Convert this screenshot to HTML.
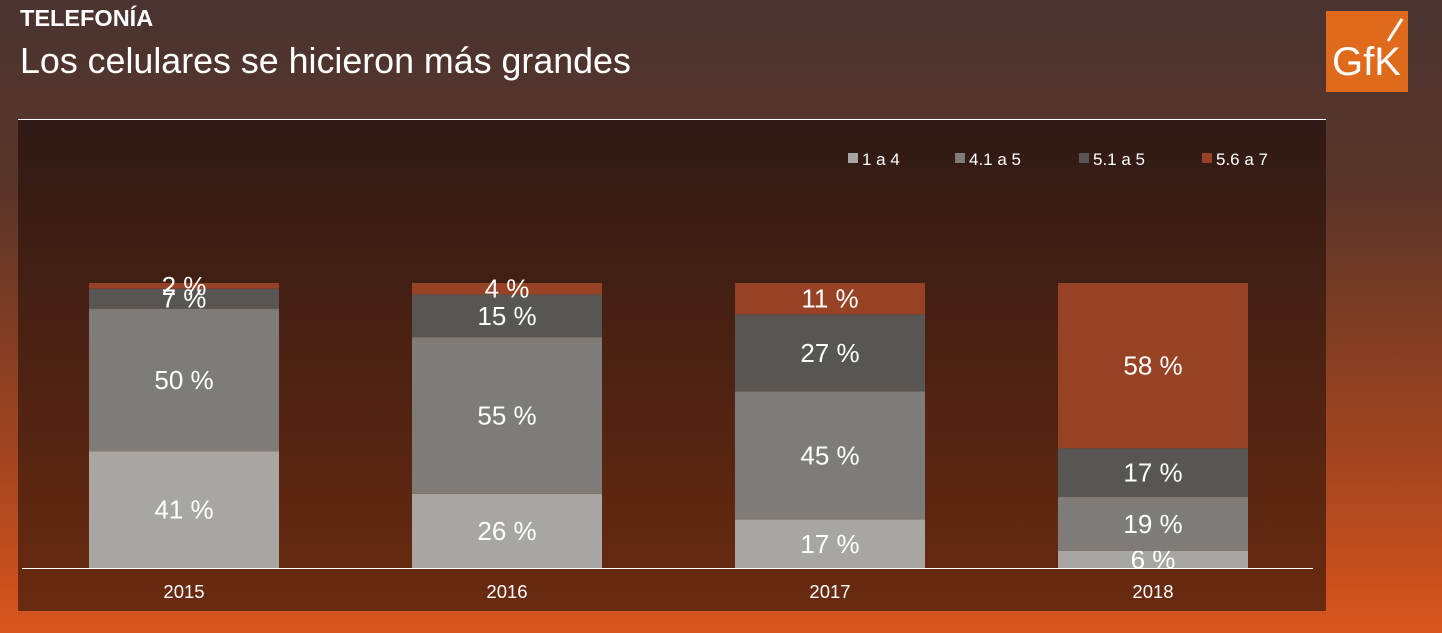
<!DOCTYPE html>
<html><head><meta charset="utf-8"><style>
body{margin:0;width:1442px;height:633px;overflow:hidden;background:linear-gradient(to bottom,#4a3330 0%,#5a3529 30%,#a8461f 75%,#d9561e 100%);font-family:"Liberation Sans",sans-serif;position:relative}
.t1{position:absolute;left:20px;top:5px;color:#fff;font-weight:bold;font-size:23.5px}
.t2{position:absolute;left:20px;top:41px;color:#fff;font-size:35.8px}
.logo{position:absolute;left:1326px;top:11px;width:82px;height:81px;background:#e06a1c}
</style></head><body>
<div class="t1">TELEFONÍA</div>
<div class="t2">Los celulares se hicieron más grandes</div>
<div class="logo"><svg width="82" height="81"><text x="6" y="64" fill="#fff" font-family="Liberation Sans" font-size="40">GfK</text><line x1="62" y1="30" x2="76" y2="8" stroke="#fff" stroke-width="3"/></svg></div>
<svg id="chart" width="1442" height="633" style="position:absolute;left:0;top:0">
<defs><linearGradient id="pg" x1="0" y1="0" x2="0" y2="1"><stop offset="0" stop-color="#2f1a15"/><stop offset="1" stop-color="#6a2a10"/></linearGradient></defs>
<rect x="18" y="119" width="1308" height="492" fill="url(#pg)"/>
<line x1="18" y1="119.5" x2="1326" y2="119.5" stroke="#fff" stroke-width="1"/>
<g id="bars"></g>
<line x1="22" y1="568.5" x2="1313" y2="568.5" stroke="#fff" stroke-width="1"/>
<g id="legend"></g>
</svg>
<script>
const years=["2015","2016","2017","2018"];
const seriesNames=["1 a 4","4.1 a 5","5.1 a 5","5.6 a 7"];
const s1=[41,26,17,6];
const s2=[50,55,45,19];
const s3=[7,15,27,17];
const s4=[2,4,11,58];
const colors=["#a8a5a2","#7f7b79","#595553","#974224"];
const series=[s1,s2,s3,s4];
const NS="http://www.w3.org/2000/svg";
const y0=568,yTop=283,xStart=89,step=323,bw=190;
const yS=v=>(y0-yTop)*v/100;
const g=document.getElementById('bars');
function mk(t,a,p){const e=document.createElementNS(NS,t);for(const k in a)e.setAttribute(k,a[k]);p.appendChild(e);return e;}
years.forEach((yr,i)=>{
  let base=0;const x=xStart+i*step;
  series.forEach((s,j)=>{
    const v=s[i];const y=y0-yS(base+v);const h=yS(v);
    const r=mk('rect',{x:x,y:y,width:bw,height:h,fill:colors[j]},g);
    
    
    const t=mk('text',{x:x+bw/2,y:y+h/2+9,fill:'#fff','font-size':26,'text-anchor':'middle','font-family':'Liberation Sans'},g);
    t.textContent=v+' %';
    
    
    base+=v;
  });
  const xt=mk('text',{x:x+bw/2,y:598,fill:'#fff','font-size':18.5,'text-anchor':'middle','font-family':'Liberation Sans'},g);
  xt.textContent=yr;
  
  
});
const lg=document.getElementById('legend');
const lx=[848,955,1079,1202];
seriesNames.forEach((n,j)=>{
  const r=mk('rect',{x:lx[j],y:153,width:10,height:10,fill:colors[j]},lg);
  
  
  const t=mk('text',{x:lx[j]+14,y:165,fill:'#fff','font-size':17,'font-family':'Liberation Sans'},lg);
  t.textContent=n;
  
  
});
</script>
</body></html>
